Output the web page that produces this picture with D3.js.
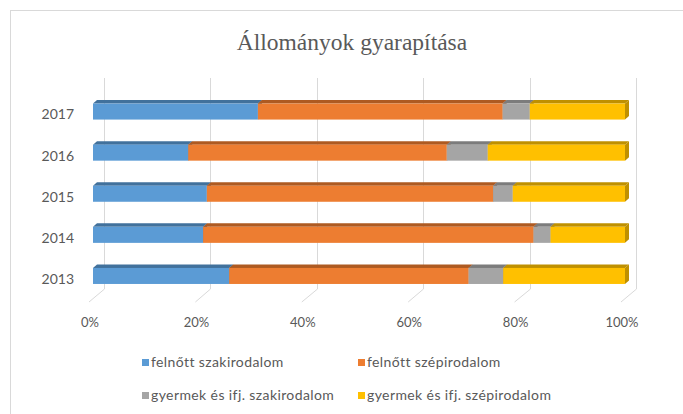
<!DOCTYPE html>
<html>
<head>
<meta charset="utf-8">
<script src="https://cdn.jsdelivr.net/npm/d3@7"></script>
<style>
  body { margin: 0; background: #fff; }
  svg { display: block; }
</style>
</head>
<body>
<div id="chart"></div>
<script>
// Állományok gyarapítása - 100% stacked 3D-ish bar chart

var years = ['2013', '2014', '2015', '2016', '2017']
var seriesNames = ['felnőtt szakirodalom', 'felnőtt szépirodalom', 'gyermek és ifj. szakirodalom', 'gyermek és ifj. szépirodalom']
var felnottSzak = [25.6, 20.7, 21.4, 17.9, 31.0]
var felnottSzep = [45.0, 62.1, 53.8, 48.6, 46.0]
var gyermekSzak = [6.5, 3.2, 3.7, 7.7, 5.1]
var gyermekSzep = [22.9, 14.0, 21.1, 25.8, 17.9]
var tickValues = [0, 0.2, 0.4, 0.6, 0.8, 1]

var colors = ['#5b9bd5', '#ed7d31', '#a5a5a5', '#ffc000']
var topColors = ['#41719c', '#ae5a21', '#7c7c7c', '#bf9000']

var width = 683
var height = 414
var depth = { dx: 4, dy: 3.5 }

var rows = years.map(function (y, i) {
  return { year: y, s0: felnottSzak[i], s1: felnottSzep[i], s2: gyermekSzak[i], s3: gyermekSzep[i] }
})
var stack = d3.stack().keys(['s0', 's1', 's2', 's3']).offset(d3.stackOffsetExpand)
var layers = stack(rows)

var svg = d3.select('#chart').append('svg')
  .attr('width', width)
  .attr('height', height)

// chart area border
svg.append('rect')
  .attr('x', 10.5).attr('y', 10.5)
  .attr('width', 700).attr('height', 430)
  .attr('fill', '#fff')
  .attr('stroke', '#d9d9d9')

var x = d3.scaleLinear().domain([0, 1]).range([93, 625])
var y = d3.scaleBand().domain(years.slice().reverse()).range([91, 296.5])
  .paddingInner(0.61).paddingOuter(0.305)

// title
svg.append('text')
  .attr('x', 352).attr('y', 50)
  .attr('text-anchor', 'middle')
  .attr('font-family', 'Liberation Serif, serif')
  .attr('font-size', 23.5)
  .attr('fill', '#595959')
  .text('Állományok gyarapítása')

// gridlines on the back wall, bending down to the floor front
var grid = svg.append('g').attr('fill', 'none').attr('stroke', '#d9d9d9').attr('stroke-width', 1)
grid.selectAll('path')
  .data(tickValues)
  .join('path')
  .attr('d', function (v) {
    var xb = Math.round(x(v) + 11) + 0.5
    return 'M' + xb + ',78 L' + xb + ',289 L' + (x(v) - 4) + ',302'
  })

// tick labels
svg.append('g')
  .attr('font-family', 'Lato, sans-serif')
  .attr('font-size', 13)
  .attr('fill', '#595959')
  .attr('text-anchor', 'middle')
  .selectAll('text')
  .data(tickValues)
  .join('text')
  .attr('x', function (v) { return x(v) - 3 })
  .attr('y', 322)
  .attr('dy', '0.35em')
  .text(d3.format('.0%'))

// year labels
svg.append('g')
  .attr('font-family', 'Lato, sans-serif')
  .attr('font-size', 14)
  .attr('fill', '#595959')
  .attr('text-anchor', 'end')
  .selectAll('text')
  .data(years)
  .join('text')
  .attr('x', 74)
  .attr('y', function (d) { return y(d) + y.bandwidth() / 2 + 3 })
  .attr('dy', '0.35em')
  .text(function (d) { return d })

// bars
var bw = y.bandwidth()
var bars = svg.append('g')
layers.forEach(function (layer, li) {
  var g = bars.append('g')
  layer.forEach(function (d) {
    var x0 = x(d[0])
    var x1 = x(d[1])
    var yt = y(d.data.year)
    // top face
    g.append('path')
      .attr('d', 'M' + x0 + ',' + yt + 'L' + (x0 + depth.dx) + ',' + (yt - depth.dy) +
        'L' + (x1 + depth.dx) + ',' + (yt - depth.dy) + 'L' + x1 + ',' + yt + 'Z')
      .attr('fill', topColors[li])
    // side face
    g.append('path')
      .attr('d', 'M' + x1 + ',' + yt + 'L' + (x1 + depth.dx) + ',' + (yt - depth.dy) +
        'L' + (x1 + depth.dx) + ',' + (yt + bw - depth.dy) + 'L' + x1 + ',' + (yt + bw) + 'Z')
      .attr('fill', topColors[li])
    // front face
    g.append('rect')
      .attr('x', x0).attr('y', yt)
      .attr('width', x1 - x0).attr('height', bw)
      .attr('fill', colors[li])
  })
})

// legend
var legendPos = [[142, 362.5], [358, 362.5], [142, 395.5], [358, 395.5]]
var legend = svg.append('g')
  .attr('font-family', 'Lato, sans-serif')
  .attr('font-size', 14)
  .attr('letter-spacing', 0.4)
  .attr('fill', '#595959')
seriesNames.forEach(function (name, i) {
  var p = legendPos[i]
  legend.append('rect')
    .attr('x', p[0]).attr('y', p[1] - 3.5)
    .attr('width', 7).attr('height', 7)
    .attr('fill', colors[i])
  legend.append('text')
    .attr('x', p[0] + 9).attr('y', p[1])
    .attr('dy', '0.35em')
    .text(name)
})
</script>
</body>
</html>
